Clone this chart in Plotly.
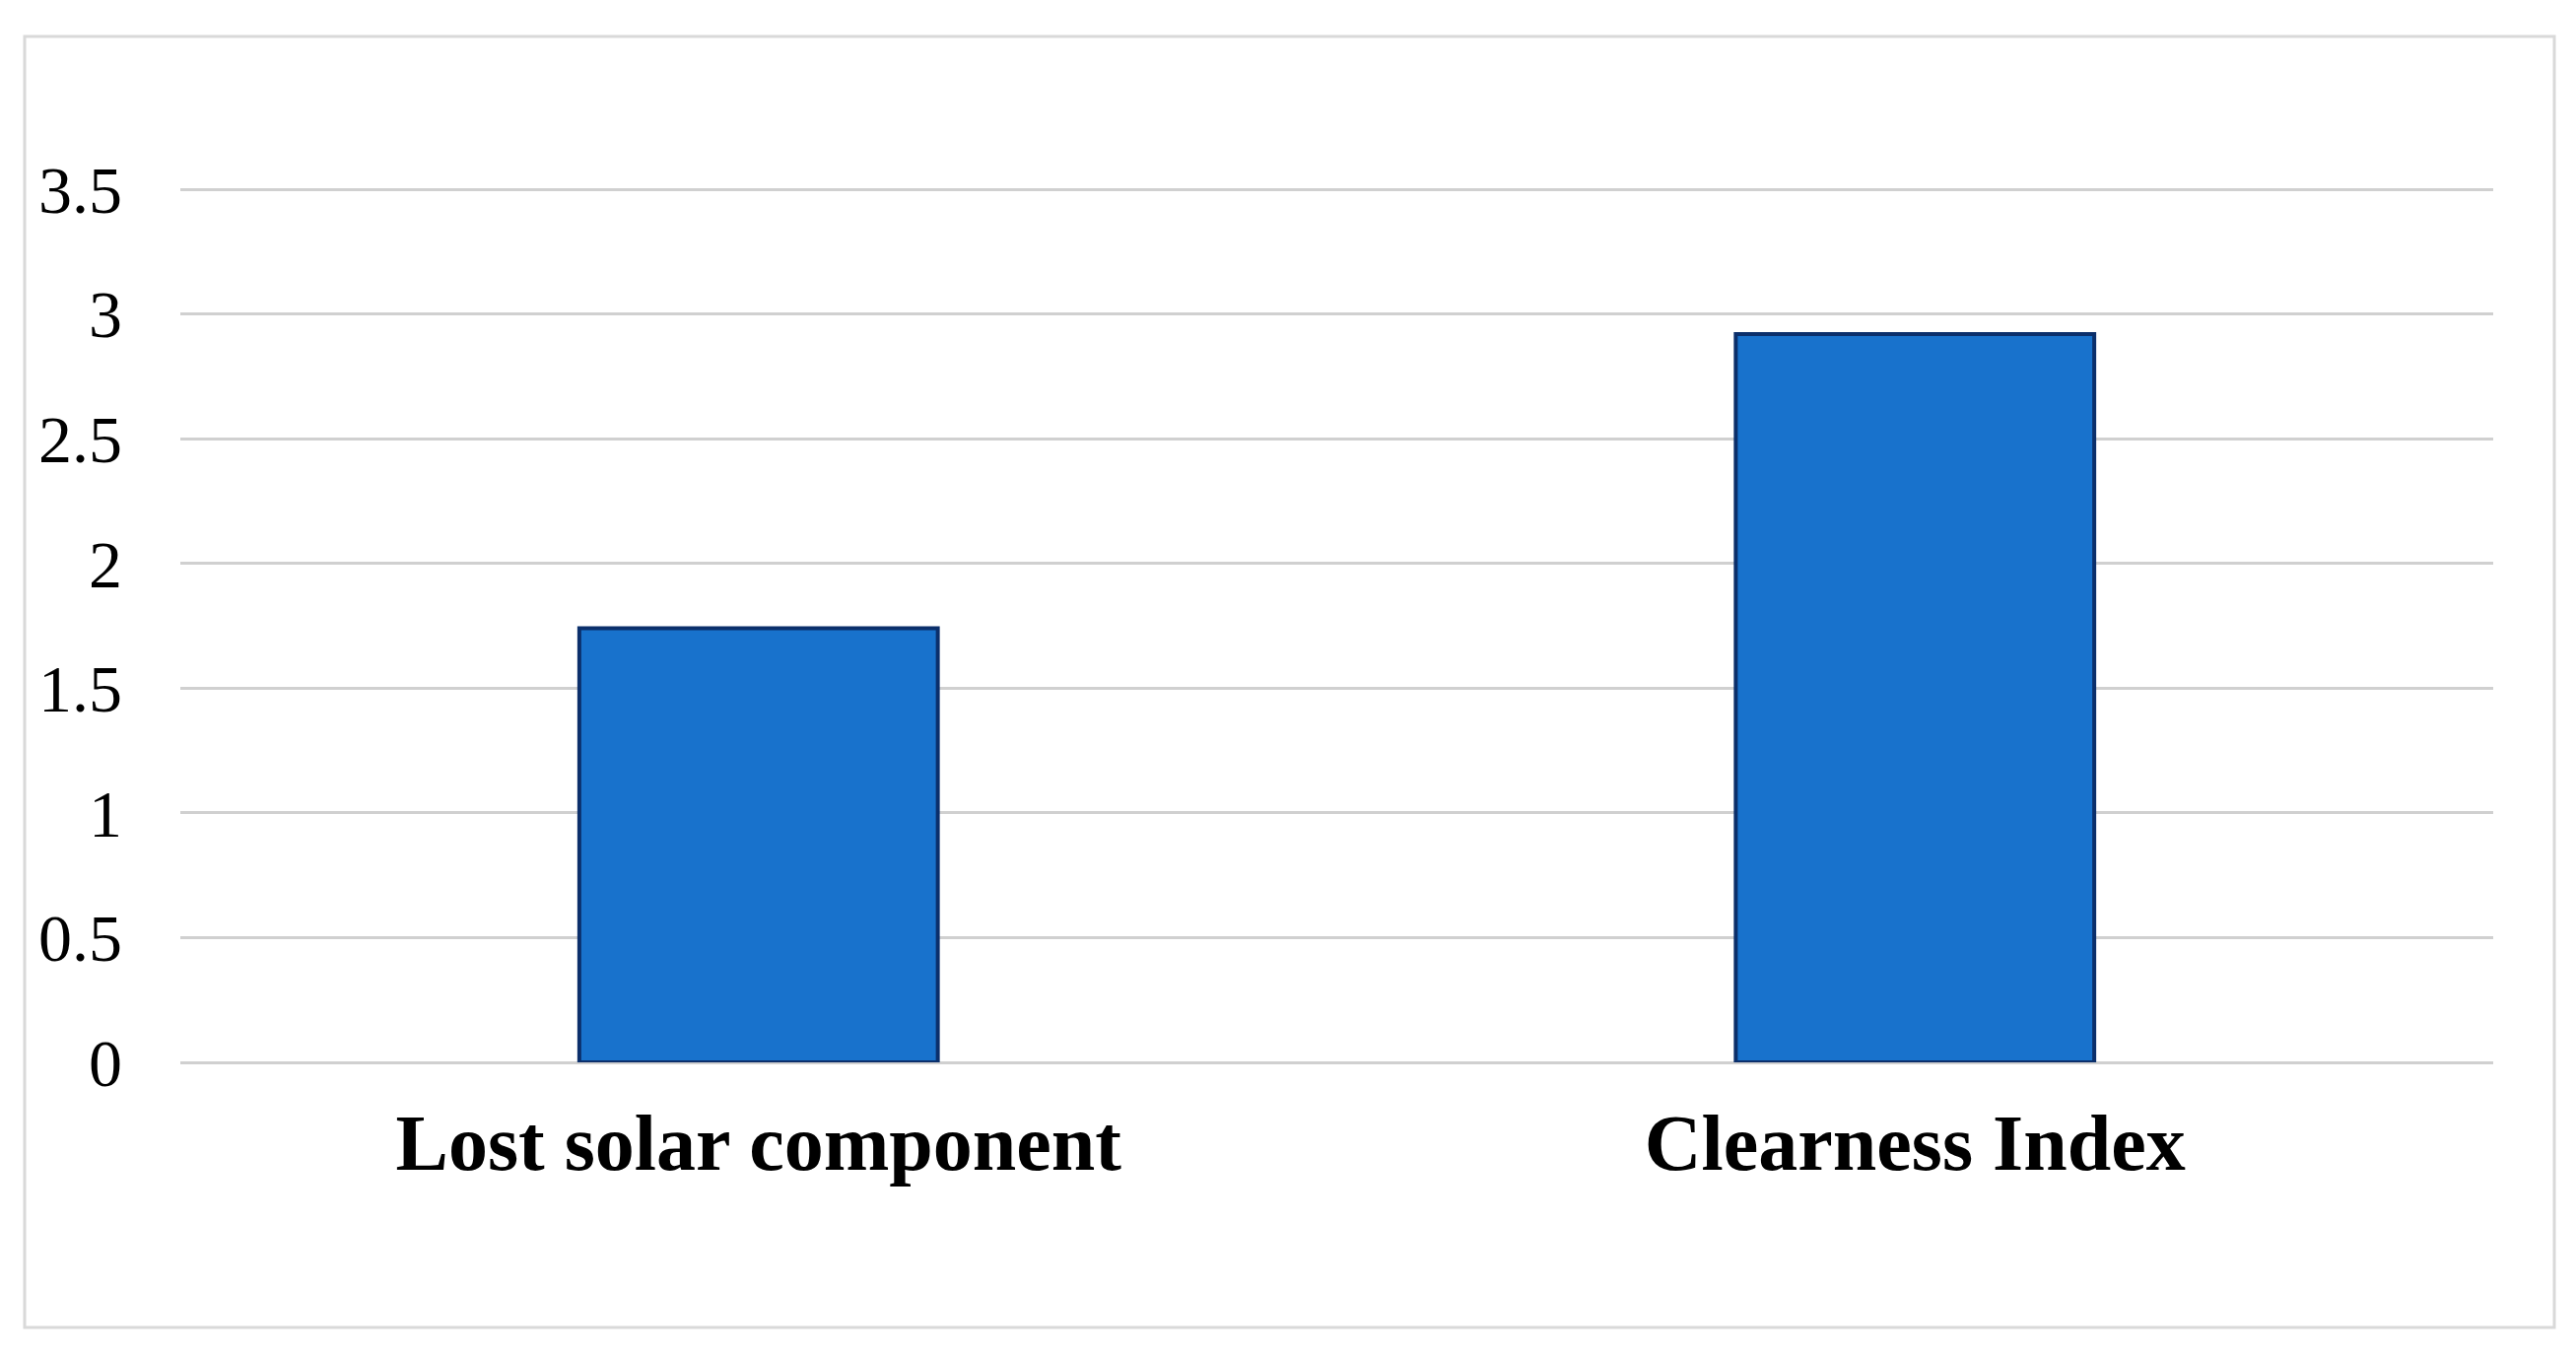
import plotly.graph_objects as go

categories = ["Lost solar component", "Clearness Index"]
values     = [1.74, 2.92]
y_ticks    = [0, 0.5, 1, 1.5, 2, 2.5, 3, 3.5]
y_labels   = ["0", "0.5", "1", "1.5", "2", "2.5", "3", "3.5"]

BAR     = "#1872CC"
EDGE    = "#0B2F6B"
GRID    = "#D0D0D0"
FRAME   = "#D9D9D9"
SERIF   = "Liberation Serif, Times New Roman, serif"

W, H = 2614, 1377
OFF = 8  # page body margin
Y_TOP = 3.52  # a little headroom so the 3.5 gridline is drawn
L, R, T, B = 183 - OFF, 84 + OFF, 192 - OFF - 5, 299 + OFF

fig = go.Figure(go.Bar(
    x=categories,
    y=values,
    width=0.31,
    marker=dict(color=BAR, line=dict(color=EDGE, width=4)),
))

# outer chart frame (pixel positions converted to paper coords)
pw, ph = W - L - R, H - T - B
fx0, fx1, fy0, fy1 = 25 - OFF, 2592 - OFF, 37 - OFF, 1347 - OFF
fig.add_shape(
    type="rect", xref="paper", yref="paper", layer="below",
    x0=(fx0 - L) / pw, x1=(fx1 - L) / pw,
    y0=(H - B - fy1) / ph, y1=(H - B - fy0) / ph,
    line=dict(color=FRAME, width=3), fillcolor="white",
)

fig.update_layout(
    width=W, height=H,
    margin=dict(l=L, r=R, t=T, b=B),
    paper_bgcolor="white",
    plot_bgcolor="rgba(0,0,0,0)",
    font=dict(family=SERIF, color="black", size=68),
    showlegend=False,
)

fig.update_xaxes(
    showgrid=False, showline=False, ticks="",
    tickfont=dict(family=SERIF, size=80, color="black", weight="bold"),
    ticklabelstandoff=28,
)
fig.update_yaxes(
    range=[0, Y_TOP],
    tickvals=y_ticks, ticktext=y_labels,
    showgrid=True, gridcolor=GRID, gridwidth=3,
    zeroline=True, zerolinecolor=GRID, zerolinewidth=3,
    showline=False, ticks="",
    tickfont=dict(family=SERIF, size=68, color="black"),
    ticklabelstandoff=58,
)

fig.write_html("out.html")
